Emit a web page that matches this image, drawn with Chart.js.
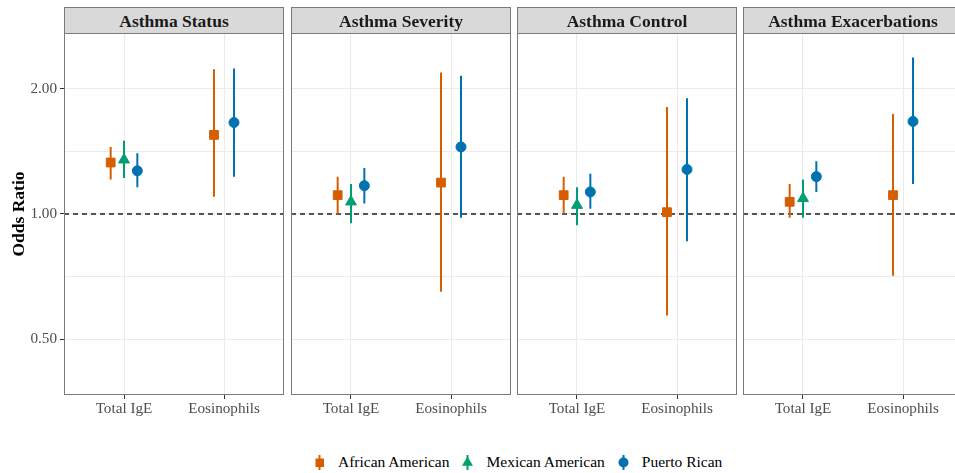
<!DOCTYPE html>
<html lang="en">
<head>
<meta charset="UTF-8">
<title>Odds Ratio by Asthma Outcome</title>
<script src="https://cdn.jsdelivr.net/npm/chart.js@4"></script>
<style>
    body {
        margin: 0;
        background: #fff;
        font-family: 'Liberation Serif', 'Times New Roman', serif;
        overflow: hidden;
    }
    .wrap {
        position: relative;
        width: 955px;
        height: 473px;
        overflow: hidden;
    }
    .panel {
        position: absolute;
    }
    .strip {
        position: absolute;
        top: 7px;
        height: 27px;
        box-sizing: border-box;
        background: #d9d9d9;
        border: 1px solid #7a7a7a;
        font-weight: bold;
        font-size: 17.5px;
        color: #1a1a1a;
        text-align: center;
        line-height: 26px;
        z-index: 2;
        white-space: nowrap;
    }
    .legend {
        position: absolute;
        left: 311px;
        top: 453px;
        display: flex;
        align-items: center;
        font-size: 15.5px;
        color: #000;
    }
    .legend .item {
        display: flex;
        align-items: center;
        margin-right: 10px;
    }
    .legend svg {
        margin-right: 10px;
    }
</style>
</head>
<body>
<div class="wrap" id="wrap">
    <div class="legend" id="legend"></div>
</div>

<script>
    // facets and x categories
    const outcomes = ['Asthma Status', 'Asthma Severity', 'Asthma Control', 'Asthma Exacerbations'];
    const categories = ['Total IgE', 'Eosinophils'];
    const groups = ['African American', 'Mexican American', 'Puerto Rican'];
    const groupColors = ['#D55E00', '#009E73', '#0072B2'];
    const groupShapes = ['rect', 'triangle', 'circle'];

    // odds ratios per outcome: [Total IgE, Eosinophils]; null = not estimated
    const orAfrican = [[1.33, 1.55], [1.11, 1.19], [1.11, 1.01], [1.07, 1.11]];
    const loAfrican = [[1.21, 1.10], [1.00, 0.65], [1.00, 0.57], [0.98, 0.71]];
    const hiAfrican = [[1.45, 2.23], [1.23, 2.19], [1.23, 1.81], [1.18, 1.74]];

    const orMexican = [[1.35, null], [1.07, null], [1.05, null], [1.09, null]];
    const loMexican = [[1.22, null], [0.95, null], [0.94, null], [0.98, null]];
    const hiMexican = [[1.50, null], [1.18, null], [1.16, null], [1.21, null]];

    const orPuerto = [[1.27, 1.66], [1.17, 1.45], [1.13, 1.28], [1.23, 1.67]];
    const loPuerto = [[1.16, 1.23], [1.06, 0.98], [1.03, 0.86], [1.13, 1.18]];
    const hiPuerto = [[1.40, 2.24], [1.29, 2.15], [1.25, 1.90], [1.34, 2.38]];

    const yTicks = [0.5, 1, 2];
    const yMin = 0.3668;
    const yMax = 2.726;

    const estimates = [orAfrican, orMexican, orPuerto];
    const lowers = [loAfrican, loMexican, loPuerto];
    const uppers = [hiAfrican, hiMexican, hiPuerto];

    // layout
    const panelLeft = [64, 291, 517, 743];
    const plotWidth = 220;
    const plotTop = 33;
    const plotBottom = 395;
    const padTop = 14;
    const xAxisHeight = 25;
    const dodgeWidth = 0.4;
    const font = "'Liberation Serif', 'Times New Roman', serif";

    // dodge positions like position_dodge: only groups present at a category share the slot
    function dodgeX(panel, cat, g) {
        const present = groups.map((_, k) => k).filter(k => estimates[k][panel][cat] !== null);
        const n = present.length;
        const idx = present.indexOf(g);
        return cat + 1 - dodgeWidth / 2 + dodgeWidth / n * (idx + 0.5);
    }

    const panelBorder = {
        id: 'panelBorder',
        afterDraw(chart) {
            const a = chart.chartArea;
            const ctx = chart.ctx;
            ctx.save();
            ctx.strokeStyle = '#7a7a7a';
            ctx.lineWidth = 1;
            ctx.strokeRect(Math.round(a.left) + 0.5, Math.round(a.top) + 0.5,
                Math.round(a.right - a.left) - 1, Math.round(a.bottom - a.top) - 1);
            ctx.restore();
        }
    };

    const wrap = document.getElementById('wrap');

    outcomes.forEach((outcome, p) => {
        const first = p === 0;
        const canvasLeft = first ? 0 : panelLeft[p] - 2;
        const canvasWidth = first ? panelLeft[p] + plotWidth + 2 : plotWidth + 4;
        const canvasTop = plotTop - padTop;
        const canvasHeight = plotBottom + xAxisHeight - canvasTop;

        const div = document.createElement('div');
        div.className = 'panel';
        div.style.left = canvasLeft + 'px';
        div.style.top = canvasTop + 'px';
        const canvas = document.createElement('canvas');
        canvas.width = canvasWidth;
        canvas.height = canvasHeight;
        div.appendChild(canvas);
        wrap.appendChild(div);

        const strip = document.createElement('div');
        strip.className = 'strip';
        strip.style.left = panelLeft[p] + 'px';
        strip.style.width = plotWidth + 'px';
        strip.textContent = outcome;
        wrap.appendChild(strip);

        const datasets = [];

        // reference line at OR = 1
        datasets.push({
            type: 'line',
            data: [{ x: 0.4, y: 1 }, { x: 2.6, y: 1 }],
            borderColor: '#222',
            borderWidth: 1.3,
            borderDash: [5, 4],
            pointRadius: 0,
            order: 3
        });

        groups.forEach((name, g) => {
            const bars = [];
            const pts = [];
            categories.forEach((c, k) => {
                const est = estimates[g][p][k];
                if (est === null) return;
                const x = dodgeX(p, k, g);
                bars.push({ x: x, y: lowers[g][p][k] }, { x: x, y: uppers[g][p][k] }, { x: x, y: null });
                pts.push({ x: x, y: est });
            });
            datasets.push({
                type: 'line',
                label: name + ' CI',
                data: bars,
                borderColor: groupColors[g],
                borderWidth: 2,
                pointRadius: 0,
                spanGaps: false,
                order: 2
            });
            datasets.push({
                type: 'line',
                label: name,
                data: pts,
                showLine: false,
                pointStyle: groupShapes[g],
                pointRadius: groupShapes[g] === 'circle' ? 5 : (groupShapes[g] === 'rect' ? 6.2 : 6.3),
                backgroundColor: groupColors[g],
                borderColor: groupColors[g],
                pointBorderWidth: 1,
                order: 1
            });
        });

        new Chart(canvas, {
            type: 'line',
            data: { datasets },
            options: {
                responsive: false,
                animation: false,
                layout: {
                    autoPadding: false,
                    padding: { left: first ? 0 : 2, right: 2, top: padTop, bottom: 0 }
                },
                plugins: {
                    legend: { display: false },
                    tooltip: { enabled: false }
                },
                scales: {
                    x: {
                        type: 'linear',
                        min: 0.4,
                        max: 2.6,
                        afterBuildTicks: s => { s.ticks = categories.map((c, i) => ({ value: i + 1 })); },
                        afterFit: s => { s.height = xAxisHeight; },
                        border: { display: false },
                        grid: {
                            color: '#ebebeb',
                            lineWidth: 1,
                            tickLength: 4,
                            tickColor: '#333'
                        },
                        ticks: {
                            autoSkip: false,
                            maxRotation: 0,
                            padding: 1,
                            color: '#4d4d4d',
                            font: { family: font, size: 15.2 },
                            callback: v => categories[v - 1]
                        }
                    },
                    y: {
                        type: 'logarithmic',
                        min: yMin,
                        max: yMax,
                        afterBuildTicks: s => {
                            s.ticks = [0.5, Math.SQRT1_2, 1, Math.SQRT2, 2].map(v => ({ value: v, minor: !yTicks.includes(v) }));
                        },
                        afterFit: s => { s.width = first ? panelLeft[0] : 0; },
                        border: { display: false },
                        grid: {
                            color: '#ebebeb',
                            lineWidth: 1,
                            drawTicks: first,
                            tickLength: 4,
                            tickColor: c => (c.tick && !c.tick.minor) ? '#333' : 'rgba(0,0,0,0)'
                        },
                        ticks: {
                            display: first,
                            padding: 3,
                            color: '#4d4d4d',
                            font: { family: font, size: 15.2 },
                            callback: (v, i, t) => t[i].minor ? '' : v.toFixed(2)
                        },
                        title: {
                            display: first,
                            text: 'Odds Ratio',
                            color: '#000',
                            padding: { top: 9, bottom: 0 },
                            font: { family: font, size: 17.5, weight: 'bold' }
                        }
                    }
                }
            },
            plugins: [panelBorder]
        });
    });

    // legend built with the same colours and shapes
    const legend = document.getElementById('legend');
    const keySvg = [
        c => `<rect x="4.5" y="4.5" width="8.5" height="8.5" fill="${c}"/>`,
        c => `<polygon points="8.5,2.5 14,11.8 3,11.8" fill="${c}"/>`,
        c => `<circle cx="8.5" cy="8.5" r="5" fill="${c}"/>`
    ];
    groups.forEach((name, g) => {
        const item = document.createElement('div');
        item.className = 'item';
        item.innerHTML =
            `<svg width="17" height="17" viewBox="0 0 17 17">` +
            `<line x1="8.5" y1="1" x2="8.5" y2="16" stroke="${groupColors[g]}" stroke-width="2"/>` +
            keySvg[g](groupColors[g]) + `</svg><span>${name}</span>`;
        legend.appendChild(item);
    });
</script>
</body>
</html>
